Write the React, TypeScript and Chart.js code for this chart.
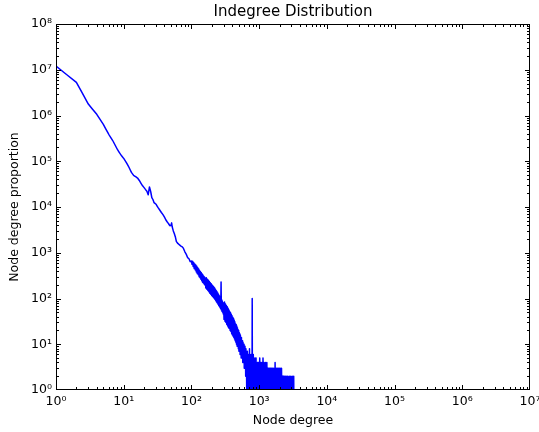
import React, { useEffect, useRef } from 'react';
import { Chart, registerables } from 'chart.js';

Chart.register(...registerables);

// ---------- data ----------
const headDegrees = [1, 2, 3, 4, 5, 6, 7, 8, 9, 10, 11, 12, 13, 14, 15, 16, 17, 18, 19, 20, 21, 22, 23, 24, 25, 26, 27, 28, 30, 32, 34, 36, 38, 40, 42, 44, 46, 48, 50, 51, 52, 54, 56, 58, 60, 63, 66, 70, 73, 76, 80, 84, 88, 92, 96];
const headCounts = [1.2e7, 5.3e6, 1.78e6, 1.06e6, 6.4e5, 3.9e5, 2.7e5, 1.85e5, 1.4e5, 1.15e5, 9.2e4, 7.3e4, 5.7e4, 4.9e4, 4.6e4, 4.3e4, 3.8e4, 3.3e4, 2.9e4, 2.65e4, 2.4e4, 2.2e4, 1.85e4, 2.75e4, 2.2e4, 1.6e4, 1.45e4, 1.25e4, 1.15e4, 9800, 8600, 7600, 6800, 6000, 5200, 4700, 4300, 3900, 4000, 4500, 3700, 3000, 2600, 2200, 1750, 1600, 1500, 1400, 1350, 1250, 1050, 920, 780, 740, 640];

const midDegrees = [
  100, 102, 104, 106, 108, 110, 112, 114, 116, 118, 120, 122, 124, 126, 128, 130,
  132, 134, 136, 138, 140, 142, 144, 146, 148, 150, 152, 154, 156, 158, 160,
  163, 166, 169, 172, 175, 178, 181, 184, 187, 190, 193, 196, 199, 202, 205, 208,
  211, 214, 217, 220, 223, 226, 229, 232, 235, 238, 241, 244, 247, 250, 253, 256,
  259, 262, 265, 268, 271, 274, 277, 280, 283, 286, 289, 292, 295, 298,
  303, 308, 313, 318, 323, 328, 333, 338, 343, 348, 353, 358, 363, 368, 373, 378,
  383, 388, 393, 398, 403, 408, 413, 418, 423, 428, 433, 438, 443, 448, 453, 458,
  463, 468, 473, 478, 483, 488, 493, 498, 503, 508, 513, 518, 523, 528, 533, 538,
  543, 548, 553, 558, 563, 568, 573, 578, 583, 588, 593, 598, 603, 608, 613, 618,
  623, 628, 633, 638, 643, 648,
];
const midCounts = [
  660, 560, 650, 500, 610, 450, 570, 420, 540, 380, 510, 350, 470, 330, 440, 300,
  410, 285, 385, 265, 365, 245, 345, 228, 325, 218, 305, 208, 295, 198, 282,
  170, 285, 160, 265, 150, 250, 140, 235, 130, 220, 124, 210, 117, 198, 111, 188,
  106, 178, 100, 170, 95, 160, 89, 150, 84, 142, 80, 134, 75, 126, 70, 118,
  67, 112, 63, 105, 60, 230, 56, 94, 52, 88, 50, 82, 46, 78,
  35, 84, 32, 76, 30, 70, 27, 66, 25, 61, 23, 56, 22, 52, 20, 49,
  19, 45, 17, 42, 16, 39, 15, 37, 14, 34, 13, 31, 12, 28, 11, 27,
  10, 25, 9, 23, 9, 21, 8, 20, 7, 18, 7, 17, 6, 16, 6, 14,
  5, 14, 5, 12, 5, 12, 4, 11, 4, 10, 4, 10, 3, 9, 3, 9,
  3, 8, 2, 8, 2, 7,
];

const tailDegrees = [
  655, 660, 665, 670, 675, 680, 685, 690, 695, 700,
  705, 710, 715, 720, 725, 730, 735, 740, 745, 750,
  755, 760, 765, 770, 775, 780, 785, 790, 795, 800,
  805, 810, 815, 820, 825, 830, 835, 840, 845, 850,
  855, 860, 865, 870, 875, 880, 885, 890, 895, 900,
  905, 910, 915, 920, 925, 930, 935, 940, 945, 950,
  955, 960, 965, 970, 975, 980, 985, 990, 995, 1000,
  1010, 1020, 1030, 1040, 1050, 1060, 1070, 1080, 1090, 1100,
  1110, 1120, 1130, 1140, 1150, 1160, 1170, 1180, 1190, 1200,
  1210, 1220, 1230, 1240, 1250, 1260, 1270, 1280, 1290, 1300,
  1310, 1320, 1330, 1340, 1350, 1360, 1370, 1380, 1390, 1400,
  1410, 1420, 1430, 1440, 1450, 1460, 1470, 1480, 1490, 1500,
  1510, 1520, 1530, 1540, 1550, 1560, 1570, 1580, 1590, 1600,
  1615, 1630, 1645, 1660, 1675, 1690, 1705, 1720, 1735, 1750,
  1765, 1780, 1795, 1810, 1825, 1840, 1855, 1870, 1885, 1900,
  1915, 1930, 1945, 1960, 1975, 1990, 2005, 2020, 2035, 2050,
  2065, 2080, 2095, 2110, 2125, 2140, 2155, 2170, 2185, 2200,
  2215, 2230, 2245, 2260, 2275, 2290,
  2330, 2360, 2420, 2450, 2520, 2560, 2620, 2650, 2760, 2790,
  2900, 2930, 3050, 3080, 3200, 3240, 3250,
];
const tailCounts = [
  1, 6, 2, 7, 1, 5, 2, 6, 1, 5,
  1, 4, 1, 8, 1, 6, 1, 5, 1, 4,
  1, 6, 1, 4, 1, 5, 1, 100, 1, 5,
  1, 4, 1, 6, 1, 3, 1, 5, 1, 4,
  1, 3, 1, 5, 1, 4, 1, 3, 1, 5,
  1, 3, 1, 4, 1, 3, 1, 4, 1, 3,
  1, 4, 1, 3, 1, 4, 1, 3, 1, 4,
  1, 5, 1, 3, 1, 4, 1, 3, 1, 4,
  1, 3, 1, 5, 1, 3, 1, 4, 1, 3,
  1, 3, 1, 4, 1, 3, 1, 3, 1, 4,
  1, 3, 1, 3, 1, 2, 1, 3, 1, 3,
  1, 2, 1, 3, 1, 3, 1, 2, 1, 3,
  1, 2, 1, 3, 1, 2, 1, 3, 1, 2,
  1, 3, 1, 2, 1, 3, 1, 4, 1, 3,
  1, 2, 1, 3, 1, 2, 1, 3, 1, 2,
  1, 3, 1, 2, 1, 3, 1, 2, 1, 3,
  1, 2, 1, 2, 1, 3, 1, 2, 1, 2,
  1, 2, 1, 2, 1, 2,
  1, 2, 1, 2, 1, 2, 1, 2, 1, 2,
  1, 2, 1, 2, 1, 2, 1,
];

const xTickExponents = [0, 1, 2, 3, 4, 5, 6, 7];
const yTickExponents = [0, 1, 2, 3, 4, 5, 6, 7, 8];

const chartTitle = 'Indegree Distribution';
const xAxisLabel = 'Node degree';
const yAxisLabel = 'Node degree proportion';

// ---------- helpers ----------
const FONT = 'DejaVu Sans';
const SUP: Record<string, string> = {
  '0': '\u2070', '1': '\u00B9', '2': '\u00B2', '3': '\u00B3', '4': '\u2074',
  '5': '\u2075', '6': '\u2076', '7': '\u2077', '8': '\u2078', '9': '\u2079', '-': '\u207B',
};
const powLabel = (v: number) =>
  '10' + String(Math.round(Math.log10(v))).split('').map((c) => SUP[c]).join('');

const framePlugin = {
  id: 'frameTicks',
  afterDatasetsDraw(chart: any) {
    const { ctx, chartArea: a } = chart;
    const xs = chart.scales.x;
    const ys = chart.scales.y;
    ctx.save();
    ctx.strokeStyle = '#000';
    ctx.lineWidth = 1;
    ctx.beginPath();
    const xe0 = xTickExponents[0];
    const xe1 = xTickExponents[xTickExponents.length - 1];
    for (let e = xe0; e <= xe1; e++) {
      for (let m = 1; m <= 9; m++) {
        const v = m * Math.pow(10, e);
        if (v > xs.max * 1.0001) continue;
        const p = Math.min(Math.round(xs.getPixelForValue(v)), a.right - 1) + 0.5;
        const len = m === 1 ? 5 : 3;
        ctx.moveTo(p, a.bottom);
        ctx.lineTo(p, a.bottom - len);
        ctx.moveTo(p, a.top);
        ctx.lineTo(p, a.top + len);
      }
    }
    const ye0 = yTickExponents[0];
    const ye1 = yTickExponents[yTickExponents.length - 1];
    for (let e = ye0; e <= ye1; e++) {
      for (let m = 1; m <= 9; m++) {
        const v = m * Math.pow(10, e);
        if (v > ys.max * 1.0001) continue;
        const p = Math.min(Math.round(ys.getPixelForValue(v)), a.bottom - 1) + 0.5;
        const len = m === 1 ? 5 : 3;
        ctx.moveTo(a.left, p);
        ctx.lineTo(a.left + len, p);
        ctx.moveTo(a.right, p);
        ctx.lineTo(a.right - len, p);
      }
    }
    ctx.stroke();
    ctx.strokeRect(a.left + 0.5, a.top + 0.5, a.right - a.left - 1, a.bottom - a.top - 1);
    ctx.restore();
  },
};

export default function App() {
  const ref = useRef<HTMLCanvasElement>(null);

  useEffect(() => {
    document.body.style.margin = '0';
    const canvas = ref.current;
    if (!canvas) return;

    const degrees = [...headDegrees, ...midDegrees, ...tailDegrees];
    const counts = [...headCounts, ...midCounts, ...tailCounts];
    const points = degrees.map((d, i) => ({ x: d, y: counts[i] }));

    const chart = new Chart(canvas, {
      type: 'line',
      data: {
        datasets: [
          {
            data: points,
            borderColor: '#0000ff',
            borderWidth: 1.5,
            pointRadius: 0,
            // tiny tension disables Chart.js' per-pixel "fast path" so every zig-zag is stroked
            tension: 0.000001,
            fill: false,
            borderJoinStyle: 'round',
          },
        ],
      },
      options: {
        animation: false,
        responsive: false,
        devicePixelRatio: 1,
        events: [],
        layout: { padding: { left: 3, right: 9, top: 0, bottom: 0 } },
        plugins: {
          legend: { display: false },
          tooltip: { enabled: false },
          title: {
            display: true,
            text: chartTitle,
            fullSize: false,
            color: '#000',
            font: { family: FONT, size: 15, weight: 'normal' },
            padding: { top: 3, bottom: 3 },
          },
        },
        scales: {
          x: {
            type: 'logarithmic',
            min: 1,
            max: 1e7,
            grid: { display: false, drawTicks: false },
            border: { display: false },
            ticks: {
              autoSkip: false,
              maxRotation: 0,
              padding: 4,
              color: '#000',
              font: { family: FONT, size: 12.5 },
              callback: (v: any) => powLabel(Number(v)),
            },
            afterBuildTicks: (axis: any) => {
              axis.ticks = xTickExponents.map((e) => ({ value: Math.pow(10, e) }));
            },
            afterFit: (s: any) => {
              s.height = 42;
              s.paddingLeft = 0;
              s.paddingRight = 0;
              s.paddingTop = 0;
              s.paddingBottom = 0;
            },
            title: {
              display: true,
              text: xAxisLabel,
              color: '#000',
              font: { family: FONT, size: 12.5 },
              padding: { top: 4, bottom: 4 },
            },
          },
          y: {
            type: 'logarithmic',
            min: 1,
            max: 1e8,
            grid: { display: false, drawTicks: false },
            border: { display: false },
            ticks: {
              autoSkip: false,
              padding: 4,
              color: '#000',
              font: { family: FONT, size: 12.5 },
              callback: (v: any) => powLabel(Number(v)),
            },
            afterBuildTicks: (axis: any) => {
              axis.ticks = yTickExponents.map((e) => ({ value: Math.pow(10, e) }));
            },
            afterFit: (s: any) => {
              s.width = 53;
              s.paddingLeft = 0;
              s.paddingRight = 0;
              s.paddingTop = 0;
              s.paddingBottom = 0;
            },
            title: {
              display: true,
              text: yAxisLabel,
              color: '#000',
              font: { family: FONT, size: 12.5 },
              padding: { top: 4, bottom: 4 },
            },
          },
        },
      },
      plugins: [framePlugin],
    } as any);

    return () => chart.destroy();
  }, []);

  return (
    <div style={{ width: 539, height: 432, background: '#fff' }}>
      <canvas ref={ref} width={539} height={432} style={{ display: 'block' }} />
    </div>
  );
}
